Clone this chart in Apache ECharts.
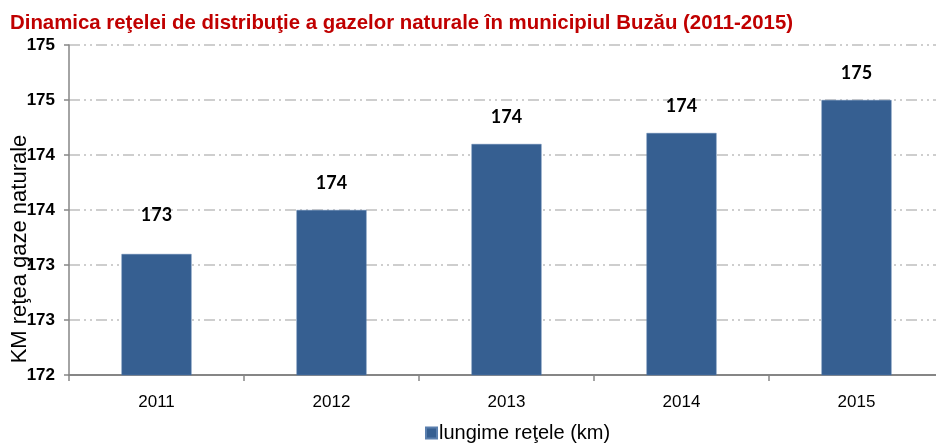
<!DOCTYPE html>
<html>
<head>
<meta charset="utf-8">
<script src="https://cdn.jsdelivr.net/npm/echarts@6/dist/echarts.min.js"></script>
<style>
  html, body { margin: 0; padding: 0; background: #fff; }
  #chart { width: 936px; height: 444px; }
</style>
</head>
<body>
<div id="chart"></div>
<script>
// date
const years = ['2011', '2012', '2013', '2014', '2015']
const lungime = [173.1, 173.5, 174.1, 174.2, 174.5]
const barLabels = ['173', '174', '174', '174', '175']
// etichetele axei Y (rotunjite ca in original)
const yTickLabels = ['172', '173', '173', '174', '174', '175', '175']

const yMin = 172
const yStep = 0.5

const barColor = '#365f91'
const gridDash = [11, 4, 2, 4, 2, 4]

const chart = echarts.init(document.getElementById('chart'), null, { renderer: 'canvas' })

const option = {
  animation: false,
  title: {
    text: 'Dinamica reţelei de distribuţie a gazelor naturale în municipiul Buzău (2011-2015)',
    left: 5,
    top: 8,
    textStyle: {
      fontFamily: 'Liberation Sans',
      fontWeight: 'bold',
      fontSize: 20.4,
      color: '#c00000'
    }
  },
  legend: {
    data: ['lungime reţele (km)'],
    left: 420,
    top: 418,
    itemWidth: 11,
    itemHeight: 11,
    itemGap: 10,
    icon: 'rect',
    textStyle: {
      fontFamily: 'Liberation Sans',
      fontSize: 20,
      color: '#000',
      padding: [0, 0, 0, -3]
    }
  },
  grid: {
    left: 69,
    right: -8,
    top: 45,
    bottom: 69,
    outerBoundsMode: 'none',
    containLabel: false
  },
  xAxis: {
    type: 'category',
    data: years,
    boundaryGap: true,
    axisLine: { lineStyle: { color: '#868686', width: 2 } },
    axisTick: { show: true, length: 6, lineStyle: { color: '#868686', width: 1.5 } },
    axisLabel: {
      fontFamily: 'Liberation Sans',
      fontSize: 17,
      color: '#000',
      margin: 19
    },
    splitLine: { show: false }
  },
  yAxis: {
    type: 'value',
    min: yMin,
    max: 175,
    interval: yStep,
    name: 'KM reţea gaze naturale',
    nameLocation: 'middle',
    nameGap: 38,
    nameMoveOverlap: false,
    nameTextStyle: {
      fontFamily: 'Liberation Sans',
      fontSize: 22,
      color: '#000',
      padding: [0, 78, 0, 0]
    },
    axisLine: { show: true, lineStyle: { color: '#868686', width: 1.5 } },
    axisTick: { show: true, length: 5, lineStyle: { color: '#868686', width: 1.5 } },
    axisLabel: {
      fontFamily: 'Liberation Sans',
      fontWeight: 'bold',
      fontSize: 17,
      color: '#000',
      margin: 14,
      formatter: v => yTickLabels[Math.round((v - yMin) / yStep)]
    },
    splitLine: {
      show: true,
      lineStyle: { color: '#bfbfbf', width: 1.5, type: gridDash }
    }
  },
  series: [
    {
      name: 'lungime reţele (km)',
      type: 'bar',
      data: lungime.map((v, i) => ({
        value: v,
        // eticheta 2011 e mutata mai sus in original
        label: i === 0 ? { distance: 30 } : undefined
      })),
      barWidth: 70,
      itemStyle: { color: barColor, borderColor: '#5a7fae', borderWidth: 0.5 },
      label: {
        show: true,
        position: 'top',
        distance: 18,
        fontFamily: 'Lato',
        fontWeight: 'bold',
        fontSize: 18,
        color: '#000',
        formatter: p => barLabels[p.dataIndex]
      }
    }
  ]
}

chart.setOption(option)
</script>
</body>
</html>
